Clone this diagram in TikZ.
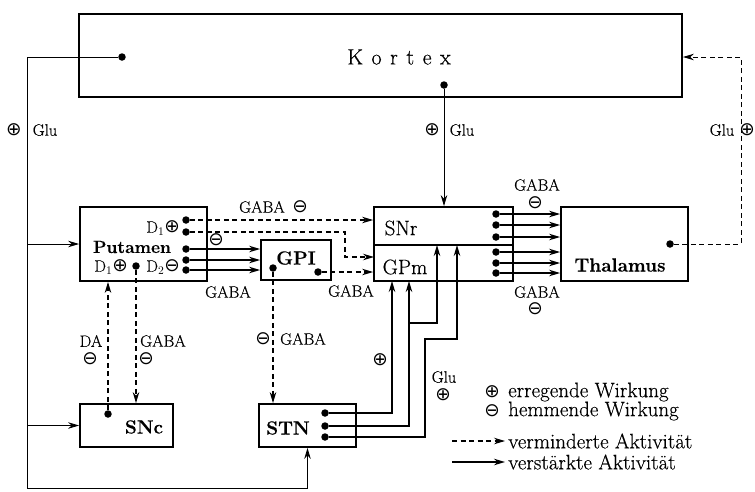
\RequirePackage{fix-cm}
\documentclass[tikz,border=0pt]{standalone}
\usepackage{fontspec}
\setmainfont{Latin Modern Roman}[FakeBold=0.4]
\newfontfamily\symf{DejaVu Sans}
\newcommand\myplus{{\fontsize{18.5}{18.5}\symf ⊕}}
\newcommand\myminus{{\fontsize{18.5}{18.5}\symf ⊖}}
\usetikzlibrary{arrows.meta,calc}
\begin{document}
\begin{tikzpicture}[x=1pt,y=-1pt,
  box/.style={draw,line width=1.8pt,inner sep=0pt},
  dot/.style={circle,fill,inner sep=0pt,minimum size=7.5pt},
  lbl/.style={inner sep=0pt,font=\fontsize{16.5}{16.5}\selectfont},
  sym/.style={inner sep=0pt},
  nm/.style={inner sep=0pt,font=\fontsize{19}{19}\selectfont\bfseries},
  nmr/.style={inner sep=0pt,font=\fontsize{21}{21}\selectfont},
  leg/.style={inner sep=0pt,anchor=west,font=\fontsize{21}{21}\selectfont},
  tip/.style={-{Stealth[length=11pt,width=6.5pt]}},
  sarr/.style={line width=1.6pt,tip},
  stnarr/.style={line width=1.4pt,tip},
  darr/.style={line width=1.1pt,dash pattern=on 5pt off 3.5pt,tip},
  tarr/.style={line width=0.9pt,tip},
  tline/.style={line width=0.9pt}
]
\useasboundingbox (0,0) rectangle (755,491);

% boxes
\node[box,minimum width=603pt,minimum height=83pt] (kortex) at (380.5,55.5) {};
\node[box,minimum width=127pt,minimum height=74pt] (putamen) at (143.5,244) {};
\node[box,minimum width=70pt,minimum height=40pt] (gpl) at (296,260) {};
\node[box,minimum width=139pt,minimum height=38pt] (snr) at (443.5,226) {};
\node[box,minimum width=139pt,minimum height=36pt] (gpm) at (443.5,263) {};
\node[box,minimum width=127pt,minimum height=74pt] (thal) at (624.5,244) {};
\node[box,minimum width=93pt,minimum height=43pt] (snc) at (126.5,425.5) {};
\node[box,minimum width=97pt,minimum height=43pt] (stn) at (307.5,425.5) {};

% box texts
\node[inner sep=0pt,font=\fontsize{22}{22}\selectfont] (tk) at (399,57) {K\hspace{8.5pt}o\hspace{8.5pt}r\hspace{8.5pt}t\hspace{8.5pt}e\hspace{8.5pt}x};
\node[nm,font=\fontsize{17.5}{17.5}\selectfont\bfseries] (tput) at (132,247) {Putamen};
\node[nm] (tgpl) at (296,258) {GPI};
\node[nmr] (tsnr) at (401,228) {SNr};
\node[nmr] (tgpm) at (405,267) {GPm};
\node[nm] (tthal) at (620,265) {Thalamus};
\node[nm] (tsnc) at (144,427) {SNc};
\node[nm] (tstn) at (288,428) {STN};

% putamen inner labels
\node[lbl,anchor=east] (pd1a) at (180,228) {D$_1$\myplus};
\node[lbl,anchor=east] (pd1b) at (128,267) {D$_1$\myplus};
\node[lbl,anchor=east] (pd2) at (180,267) {D$_2$\myminus};

% dots
\node[dot] (kl) at (122,57) {};
\node[dot] (kc) at (444,85) {};
\node[dot] (pa) at (186,220) {};
\node[dot] (pb) at (186,232) {};
\node[dot] (pc) at (186,249) {};
\node[dot] (pd) at (186,260) {};
\node[dot] (pe) at (186,270) {};
\node[dot] (pf) at (136,266) {};
\node[dot] (ga) at (273,268) {};
\node[dot] (gb) at (318,272) {};
\node[dot] (s1) at (496,214) {};
\node[dot] (s2) at (496,225) {};
\node[dot] (s3) at (496,237) {};
\node[dot] (s4) at (496,252) {};
\node[dot] (s5) at (496,263) {};
\node[dot] (s6) at (496,273) {};
\node[dot] (td) at (670,244) {};
\node[dot] (sd) at (108,414) {};
\node[dot] (t1) at (325,413) {};
\node[dot] (t2) at (325,426) {};
\node[dot] (t3) at (325,437) {};

% Kortex outputs
\coordinate (ktl) at (27,57);
\coordinate (kbl) at (27,488);
\draw[tarr] (kl) -- (ktl) -- (kbl) -| (stn.south);
\draw[tarr] (ktl |- putamen.west) -- (putamen.west);
\draw[tarr] (ktl |- snc.west) -- (snc.west);
\draw[tarr] (kc) -- (kc |- snr.north);
\coordinate (kr) at (741,57);
\draw[darr,line width=1pt] (td) -| (kr) -- (kr -| kortex.east);

% putamen outputs
\draw[darr] (pa) -- (pa -| snr.west);
\coordinate (pbt) at (345,232);
\coordinate (gpmin) at (374,257);
\draw[darr] (pb) -- (pbt) |- (gpmin);
\foreach \n in {pc,pd,pe} \draw[sarr] (\n) -- (\n -| gpl.west);
\draw[darr] (pf) -- (pf |- snc.north);

% GPl outputs
\draw[darr] (gb) -- (gb -| gpm.west);
\draw[darr] (ga) -- (ga |- stn.north);

% SNc output
\draw[darr] (sd) -- (sd |- putamen.south);

% SNr/GPm to thalamus
\foreach \n in {s1,s2,s3,s4,s5,s6} \draw[sarr] (\n) -- (\n -| thal.west);

% STN outputs
\coordinate (u1) at (392,281);
\coordinate (u2) at (409,281);
\coordinate (b2) at (409,323);
\coordinate (u3) at (437,245);
\coordinate (c3) at (425,339);
\coordinate (u4) at (457,245);
\draw[stnarr] (t1) -| (u1);
\draw[stnarr] (t2) -| (u2);
\draw[stnarr] (b2) -| (u3);
\draw[stnarr] (t3) -| (c3) -| (u4);

% labels
\node[sym] (g1) at (14,130) {\myplus};
\node[lbl] (g1t) at (45,130) {Glu};
\node[sym] (g2) at (432,130) {\myplus};
\node[lbl] (g2t) at (462,130) {Glu};
\node[lbl] (g3t) at (722,130) {Glu};
\node[sym] (g3) at (747,130) {\myplus};
\node[lbl] (lga) at (262,207) {GABA};
\node[sym] (lgas) at (300,207) {\myminus};
\node[sym] (lm1) at (216,240) {\myminus};
\node[lbl] (lgb) at (228,292) {GABA};
\node[lbl] (lgc) at (351,291) {GABA};
\node[lbl] (lgd) at (537,185) {GABA};
\node[sym] (lm2) at (535,203) {\myminus};
\node[lbl] (lge) at (537,292) {GABA};
\node[sym] (lm3) at (535,309) {\myminus};
\node[lbl] (lda) at (91,341) {DA};
\node[sym] (lm4) at (90,359) {\myminus};
\node[lbl] (lgf) at (163,341) {GABA};
\node[sym] (lm5) at (146,359) {\myminus};
\node[sym] (lm6) at (263,339) {\myminus};
\node[lbl] (lgg) at (303,339) {GABA};
\node[sym] (lp1) at (380,360) {\myplus};
\node[lbl] (lglu) at (444,377) {Glu};
\node[sym] (lp2) at (443,395) {\myplus};

% legend
\node[sym] (lsp) at (492,392) {\myplus};
\node[leg] (l1) at (508,392) {erregende Wirkung};
\node[sym] (lsm) at (492,411) {\myminus};
\node[leg] (l2) at (508,411) {hemmende Wirkung};
\node[leg] (l3) at (508,441) {verminderte Aktivität};
\node[leg] (l4) at (508,462) {verstärkte Aktivität};
\coordinate (la3) at (452,441);
\coordinate (la4) at (452,462);
\draw[darr] (la3) -- ([xshift=-3pt]l3.west);
\draw[sarr] (la4) -- ([xshift=-3pt]l4.west);
\end{tikzpicture}
\end{document}
